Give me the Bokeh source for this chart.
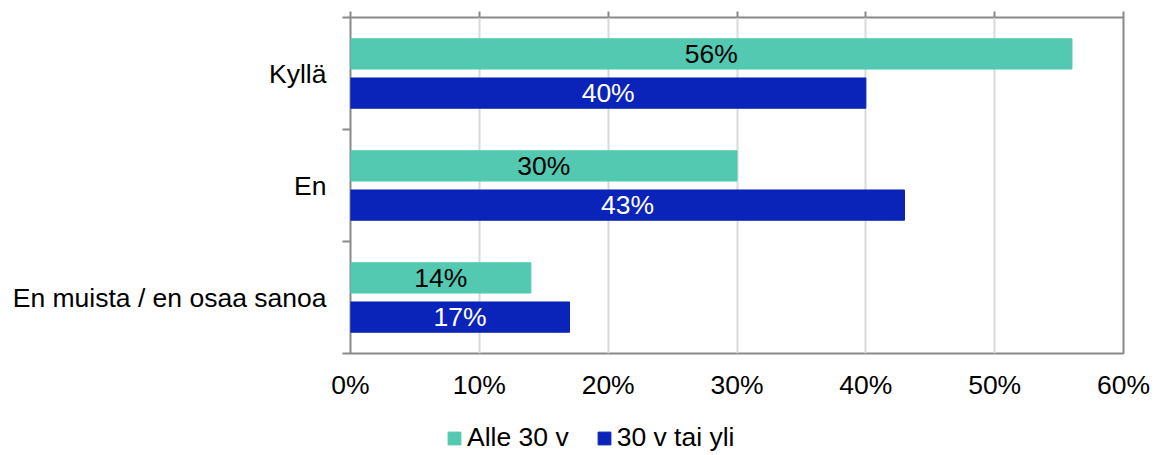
from bokeh.plotting import figure
from bokeh.layouts import column
from bokeh.models import (Range1d, FixedTicker, LinearAxis, Legend, LegendItem,
                          ColumnDataSource, CustomJSTickFormatter)
from bokeh.core.properties import value
from bokeh.embed import file_html
from bokeh.resources import INLINE

categories = ["Kyllä", "En", "En muista / en osaa sanoa"]
series_names = ["Alle 30 v", "30 v tai yli"]
alle30 = [56, 30, 14]
yli30 = [40, 43, 17]
x_ticks = [0, 10, 20, 30, 40, 50, 60]

TEAL = "#52C9B0"
BLUE = "#0A23B8"
FONT = "Liberation Sans"
FS = "26.5px"

n = len(categories)
centers = [n - i - 0.5 for i in range(n)]
off = 0.175
h = 0.27

p = figure(frame_width=773, frame_height=336, output_backend="svg",
           toolbar_location=None, x_range=Range1d(0, 60), y_range=Range1d(0, n),
           min_border_left=350, min_border_top=17, min_border_right=27,
           min_border_bottom=47, x_axis_location="below")
p.outline_line_color = "#898989"
p.outline_line_width = 2
p.background_fill_color = "white"
p.border_fill_color = "white"

src1 = ColumnDataSource(dict(y=[c + off for c in centers], v=alle30,
                             m=[v / 2 for v in alle30], t=[f"{v}%" for v in alle30]))
src2 = ColumnDataSource(dict(y=[c - off for c in centers], v=yli30,
                             m=[v / 2 for v in yli30], t=[f"{v}%" for v in yli30]))

r1 = p.hbar(y="y", right="v", left=0, height=h, source=src1, color=TEAL)
r2 = p.hbar(y="y", right="v", left=0, height=h, source=src2, color=BLUE)

p.text(x="m", y="y", text="t", source=src1, text_align="center", text_baseline="middle",
       text_font=value(FONT), text_font_size=FS, text_color="black")
p.text(x="m", y="y", text="t", source=src2, text_align="center", text_baseline="middle",
       text_font=value(FONT), text_font_size=FS, text_color="white")

# x axis (bottom)
xa = p.xaxis[0]
xa.ticker = FixedTicker(ticks=x_ticks)
xa.formatter = CustomJSTickFormatter(code="return tick + '%';")
xa.axis_line_color = None
xa.major_tick_line_color = None
xa.minor_tick_line_color = None
xa.major_tick_out = 0
xa.major_label_standoff = 16
xa.major_label_text_font = FONT
xa.major_label_text_font_size = FS
xa.major_label_text_color = "black"

# top axis with ticks only
ta = LinearAxis(ticker=FixedTicker(ticks=x_ticks),
                formatter=CustomJSTickFormatter(code="return '';"),
                major_label_text_font_size="1px",
                axis_line_color=None, major_tick_line_color="#898989",
                major_tick_line_width=2, major_tick_out=6, major_tick_in=0,
                minor_tick_line_color=None, major_label_standoff=0)
p.add_layout(ta, "above")

# y axis
ya = p.yaxis[0]
ya.ticker = FixedTicker(ticks=centers, minor_ticks=list(range(n + 1)))
ya.major_label_overrides = {c: categories[i] for i, c in enumerate(centers)}
ya.axis_line_color = None
ya.major_tick_line_color = None
ya.major_tick_out = 0
ya.minor_tick_line_color = "#898989"
ya.minor_tick_line_width = 2
ya.minor_tick_out = 8
ya.minor_tick_in = 0
ya.major_label_standoff = 16
ya.major_label_text_font = FONT
ya.major_label_text_font_size = FS
ya.major_label_text_color = "black"

p.xgrid.ticker = FixedTicker(ticks=x_ticks)
p.xgrid.grid_line_color = "#D9D9D9"
p.xgrid.grid_line_width = 2
p.ygrid.grid_line_color = None

# legend figure (dummy renderers placed outside the visible range)
f2 = figure(width=1150, height=52, output_backend="svg", toolbar_location=None,
            x_axis_type=None, y_axis_type=None, x_range=Range1d(0, 1), y_range=Range1d(0, 1),
            min_border_left=0, min_border_right=0, min_border_top=0, min_border_bottom=0)
f2.outline_line_color = None
f2.xgrid.grid_line_color = None
f2.ygrid.grid_line_color = None
dummy = dict(y=[-5], right=[-4])
l1 = f2.hbar(y="y", right="right", left=-5, height=0.5, source=ColumnDataSource(dummy), color=TEAL)
l2 = f2.hbar(y="y", right="right", left=-5, height=0.5, source=ColumnDataSource(dummy), color=BLUE)

legend = Legend(items=[LegendItem(label=series_names[0], renderers=[l1]),
                       LegendItem(label=series_names[1], renderers=[l2])],
                orientation="horizontal", location=(96, 1),
                label_text_font=FONT, label_text_font_size=FS, label_text_color="black",
                glyph_width=16, glyph_height=16, label_standoff=5, spacing=27,
                border_line_color=None, background_fill_alpha=0, padding=0, margin=0,
                label_height=26)
f2.add_layout(legend, "center")

layout = column(p, f2, spacing=0)
open("out.html", "w").write(file_html(layout, INLINE))
